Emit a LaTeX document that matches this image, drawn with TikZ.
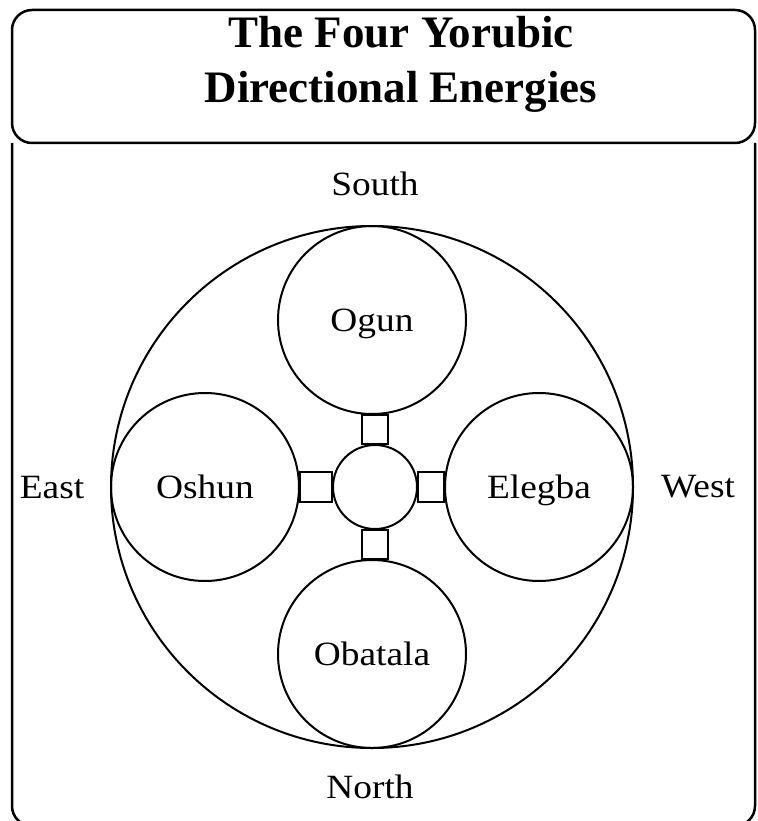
\documentclass[tikz,border=0pt]{standalone}
\usepackage{fontspec}
\setmainfont{Liberation Serif}
\newfontfamily\compassfont[FakeStretch=1.1]{Liberation Serif}
\usepackage{tikz}
\usetikzlibrary{calc}
\tikzset{orisha/.style={circle, draw, line width=2pt, minimum size=188pt, inner sep=0pt, text height=28pt, text depth=6pt, font=\compassfont\fontsize{34}{34}\selectfont}}
\tikzset{hub/.style={circle, draw, line width=2pt, minimum size=84pt, inner sep=0pt}}

\begin{document}
\begin{tikzpicture}[
    x=1pt, y=-1pt,
    frame/.style={line width=2.5pt, rounded corners=20pt},
    heading/.style={anchor=base, font=\bfseries\fontsize{45}{55}\selectfont},
    compass/.style={anchor=base, font=\compassfont\fontsize{34}{34}\selectfont},
    world/.style={circle, draw, line width=2pt, minimum size=522pt, inner sep=0pt},
    bridge/.style={line width=2pt}
]
\useasboundingbox (0,0) rectangle (757,821);

% Frame
\draw[frame] (12,10) rectangle (755,143);
\draw[frame] (12,143) -- (12,826) -- (755,826) -- (755,143);

% Title
\node[heading] (line1) at (401,48) {The Four Yorubic};
\node[heading] (line2) at (401,103) {Directional Energies};

% Nodes
\node[world] (world) at (372,487) {};
\node[orisha] (ogun) at (372,320) {Ogun};
\node[orisha] (obatala) at (372,654) {Obatala};
\node[orisha] (oshun) at (205,487) {Oshun};
\node[orisha] (elegba) at (539,487) {Elegba};
\node[hub] (hub) at (375,487) {};

% Paths
\draw[bridge] ($(hub.north)+(-13,0)$) rectangle ($(hub.north |- ogun.south)+(13,0)$);
\draw[bridge] ($(hub.south)+(-13,0)$) rectangle ($(hub.south |- obatala.north)+(13,0)$);
\draw[bridge] ($(hub.west)+(0,-15)$) rectangle ($(hub.west -| oshun.east)+(0,15)$);
\draw[bridge] ($(hub.east)+(0,-15)$) rectangle ($(hub.east -| elegba.west)+(0,15)$);

% Directions
\node[compass] (south) at (375,195) {South};
\node[compass] (north) at (370,798) {North};
\node[compass] (east) at (52,498) {East};
\node[compass] (west) at (698,497) {West};

\end{tikzpicture}
\end{document}
